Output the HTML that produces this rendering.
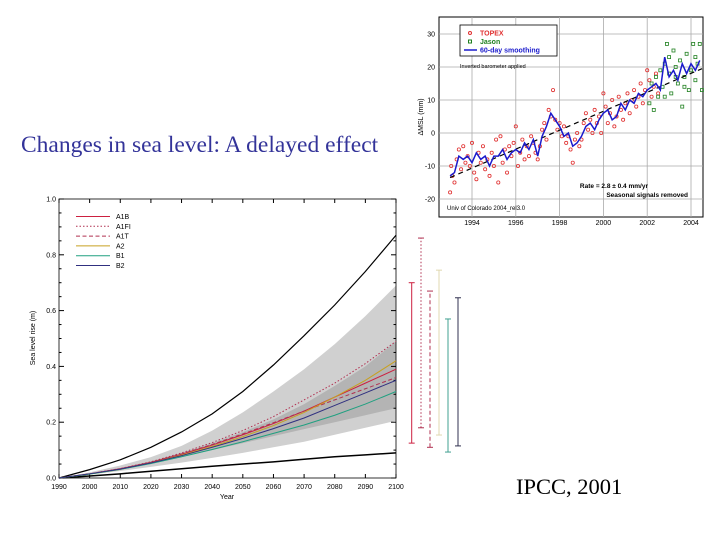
<!DOCTYPE html>
<html><head><meta charset="utf-8"><style>
body{margin:0;background:#fff;}
#wrap{position:relative;width:720px;height:540px;overflow:hidden;background:#fff;}
.t{position:absolute;font-family:"Liberation Serif",serif;white-space:nowrap;}
</style></head><body>
<div id="wrap">
<div class="t" style="left:21px;top:132px;font-size:23.5px;color:#333399;">Changes in sea level: A delayed effect</div>
<div class="t" style="left:516px;top:474px;font-size:22.5px;color:#000;">IPCC, 2001</div>
<svg id="top" width="720" height="540" style="position:absolute;left:0;top:0"></svg>
</div>
<script>
// ===== Top chart data =====
const topYTicks=[30,20,10,0,-10,-20];
const topXTicks=[1994,1996,1998,2000,2002,2004];
const smoothYears=[1993.0,1993.2,1993.4,1993.6,1993.8,1994.0,1994.2,1994.4,1994.6,1994.8,1995.0,1995.2,1995.4,1995.6,1995.8,1996.0,1996.2,1996.4,1996.6,1996.8,1997.0,1997.2,1997.4,1997.6,1997.8,1998.0,1998.2,1998.4,1998.6,1998.8,1999.0,1999.2,1999.4,1999.6,1999.8,2000.0,2000.2,2000.4,2000.6,2000.8,2001.0,2001.2,2001.4,2001.6,2001.8,2002.0,2002.2,2002.4,2002.6,2002.8,2003.0,2003.2,2003.4,2003.6,2003.8,2004.0,2004.2,2004.4];
const smoothVals=[-13,-12,-7,-8,-7,-9,-6,-8,-7,-10,-7,-7,-5,-8,-6,-5,-6,-3,-5,-2,-7,-1,2,6,4,2,-1,0,-4,-3,-1,2,3,1,4,6,7,4,5,9,7,10,9,12,11,13,14,15,13,23,17,19,16,21,18,21,19,22];
const topexPts=[[1993.0,-18],[1993.05,-10],[1993.1,-13],[1993.2,-15],[1993.3,-8],[1993.4,-5],[1993.5,-11],[1993.6,-4],[1993.7,-9],[1993.8,-7],[1993.9,-10],[1994.0,-3],[1994.1,-12],[1994.2,-14],[1994.3,-6],[1994.4,-9],[1994.5,-4],[1994.6,-11],[1994.7,-8],[1994.8,-13],[1994.9,-6],[1995.0,-10],[1995.1,-2],[1995.2,-15],[1995.3,-1],[1995.4,-9],[1995.5,-5],[1995.6,-12],[1995.7,-4],[1995.8,-7],[1995.9,-3],[1996.0,2],[1996.1,-10],[1996.2,-6],[1996.3,-2],[1996.4,-8],[1996.5,-4],[1996.6,-7],[1996.7,-1],[1996.8,-3],[1996.9,-6],[1997.0,-8],[1997.1,-4],[1997.2,1],[1997.3,3],[1997.4,-2],[1997.5,7],[1997.6,5],[1997.7,13],[1997.8,4],[1997.9,1],[1998.0,3],[1998.1,-1],[1998.2,2],[1998.3,-3],[1998.4,-1],[1998.5,-5],[1998.6,-9],[1998.7,-2],[1998.8,0],[1998.9,-4],[1999.0,-2],[1999.1,3],[1999.2,6],[1999.3,1],[1999.4,4],[1999.5,0],[1999.6,7],[1999.7,3],[1999.8,5],[1999.9,0],[2000.0,12],[2000.1,8],[2000.2,3],[2000.3,6],[2000.4,10],[2000.5,2],[2000.6,5],[2000.7,11],[2000.8,7],[2000.9,4],[2001.0,9],[2001.1,12],[2001.2,6],[2001.3,10],[2001.4,13],[2001.5,8],[2001.6,11],[2001.7,15],[2001.8,9],[2001.9,13],[2002.0,19],[2002.1,16],[2002.2,11],[2002.3,14],[2002.4,18],[2002.5,12]];
const jasonPts=[[2002.1,9],[2002.2,15],[2002.3,7],[2002.4,17],[2002.5,11],[2002.6,19],[2002.7,14],[2002.8,21],[2002.9,27],[2003.0,18],[2003.1,12],[2003.2,25],[2003.3,20],[2003.4,15],[2003.5,22],[2003.6,8],[2003.7,17],[2003.8,24],[2003.9,13],[2004.0,19],[2004.1,27],[2004.2,16],[2004.3,21],[2004.4,27],[2004.5,13],[2003.0,23],[2003.3,17],[2003.7,14],[2004.2,23],[2002.8,11]];
const trendYears=[1993.0,2004.5];
const trendVals=[-13.5,19.5];

// ===== Bottom chart data =====
const botYTicks=[0.0,0.2,0.4,0.6,0.8,1.0];
const botXTicks=[1990,2000,2010,2020,2030,2040,2050,2060,2070,2080,2090,2100];
const years=[1990,2000,2010,2020,2030,2040,2050,2060,2070,2080,2090,2100];
const upperBound=[0,0.03,0.065,0.11,0.165,0.23,0.31,0.405,0.51,0.62,0.74,0.87];
const lowerBound=[0,0.007,0.015,0.024,0.033,0.042,0.05,0.058,0.067,0.076,0.083,0.09];
const outerHi=[0,0.02,0.045,0.075,0.115,0.17,0.235,0.31,0.39,0.48,0.58,0.69];
const outerLo=[0,0.012,0.025,0.04,0.055,0.072,0.09,0.11,0.13,0.155,0.18,0.205];
const innerHi=[0,0.016,0.035,0.06,0.09,0.125,0.165,0.21,0.265,0.33,0.4,0.49];
const innerLo=[0,0.014,0.03,0.05,0.075,0.1,0.125,0.15,0.175,0.2,0.225,0.25];
const sA1B=[0,0.015,0.033,0.056,0.085,0.118,0.155,0.195,0.24,0.29,0.34,0.39];
const sA1FI=[0,0.015,0.034,0.058,0.09,0.127,0.17,0.22,0.28,0.34,0.41,0.49];
const sA1T=[0,0.015,0.033,0.056,0.086,0.12,0.158,0.198,0.24,0.28,0.32,0.36];
const sA2=[0,0.014,0.031,0.054,0.082,0.113,0.148,0.188,0.235,0.29,0.35,0.42];
const sB1=[0,0.014,0.031,0.052,0.076,0.102,0.13,0.16,0.19,0.225,0.265,0.31];
const sB2=[0,0.015,0.032,0.054,0.08,0.11,0.142,0.177,0.215,0.26,0.305,0.35];
const barLo=[0.125,0.18,0.11,0.154,0.093,0.115];
const barHi=[0.70,0.86,0.67,0.745,0.57,0.646];
const scenarioNames=['A1B','A1FI','A1T','A2','B1','B2'];

const svg=document.getElementById('top');
const NS='http://www.w3.org/2000/svg';
function mk(tag,attrs,parent){const e=document.createElementNS(NS,tag);for(const k in attrs)e.setAttribute(k,attrs[k]);(parent||svg).appendChild(e);return e;}
function txt(x,y,s,size,anchor,fill,parent){const e=mk('text',{x:x,y:y,'font-size':size,'font-family':'Liberation Sans, sans-serif','text-anchor':anchor||'start',fill:fill||'#000'},parent);e.textContent=s;return e;}

// ---- Top chart ----
const tx=y=>472+(y-1994)*21.9;
const ty=v=>199-(v+20)*3.3;
const tg=mk('g',{});


mk('rect',{x:439,y:17,width:264,height:200,fill:'#fff',stroke:'#000','stroke-width':1},tg);
topXTicks.forEach(v=>{const l=mk('line',{x1:tx(v),x2:tx(v),y1:17,y2:217,stroke:'#aaa','stroke-width':0.8},tg);

const t=txt(tx(v),225,String(v),7,'middle','#000',tg);});
topYTicks.forEach(v=>{const l=mk('line',{x1:439,x2:703,y1:ty(v),y2:ty(v),stroke:'#aaa','stroke-width':0.8},tg);

const t=txt(435,ty(v)+2.5,String(v),7,'end','#000',tg);});
const yt=txt(0,0,'ΔMSL  (mm)',7,'middle','#000',tg);yt.setAttribute('transform','translate(423,117) rotate(-90)');

topexPts.forEach(p=>{const c=mk('circle',{cx:tx(p[0]),cy:ty(p[1]),r:1.6,fill:'none',stroke:'#e03030','stroke-width':0.8},tg);
});
jasonPts.forEach(p=>{const c=mk('rect',{x:tx(p[0])-1.5,y:ty(p[1])-1.5,width:3,height:3,fill:'none',stroke:'#208020','stroke-width':0.8},tg);
});
const tr=mk('line',{x1:tx(trendYears[0]),y1:ty(trendVals[0]),x2:tx(trendYears[1]),y2:ty(trendVals[1]),stroke:'#000','stroke-width':1.2,'stroke-dasharray':'5,4'},tg);

const sm=mk('polyline',{points:smoothYears.map((y,i)=>tx(y)+','+ty(smoothVals[i])).join(' '),fill:'none',stroke:'#1a1acc','stroke-width':1.5},tg);

const lg=mk('g',{},tg);
mk('rect',{x:460,y:25,width:97,height:31,fill:'#fff',stroke:'#000','stroke-width':0.8},lg);
mk('circle',{cx:470,cy:33,r:1.5,fill:'none',stroke:'#e03030'},lg);txt(480,35.5,'TOPEX',7,'start','#e03030',lg).setAttribute('font-weight','bold');
mk('rect',{x:468.5,y:40,width:3,height:3,fill:'none',stroke:'#208020'},lg);txt(480,44,'Jason',7,'start','#208020',lg).setAttribute('font-weight','bold');
mk('line',{x1:464,x2:477,y1:50,y2:50,stroke:'#1a1acc','stroke-width':1.5},lg);txt(480,52.5,'60-day smoothing',7,'start','#1a1acc',lg).setAttribute('font-weight','bold');
txt(460,68,'Inverted barometer applied',5.5,'start','#000',tg);
txt(648,188,'Rate = 2.8 ± 0.4 mm/yr',6.5,'end','#000',tg).setAttribute('font-weight','bold');
txt(688,197,'Seasonal signals removed',6.5,'end','#000',tg).setAttribute('font-weight','bold');
txt(447,210,'Univ of Colorado 2004_rel3.0',6,'start','#000',tg);

// ---- Bottom chart ----
const bx=y=>59+(y-1990)*(337/110);
const by=v=>478-v*279;
const bg=mk('g',{});


function band(hi,lo,fill,name){const pts=years.map((y,i)=>bx(y)+','+by(hi[i])).concat(years.slice().reverse().map((y,i)=>bx(y)+','+by(lo[years.length-1-i]))).join(' ');
const p=mk('polygon',{points:pts,fill:fill},bg);}
band(outerHi,outerLo,'#d0d0d0','outer-uncertainty-band');
band(innerHi,innerLo,'#b4b4b4','inner-uncertainty-band');
mk('rect',{x:59,y:199,width:337,height:279,fill:'none',stroke:'#000','stroke-width':0.8},bg);
botXTicks.forEach(v=>{mk('line',{x1:bx(v),x2:bx(v),y1:478,y2:474,stroke:'#000'},bg);mk('line',{x1:bx(v),x2:bx(v),y1:199,y2:203,stroke:'#000'},bg);
const t=txt(bx(v),489,String(v),7,'middle','#000',bg);});
for(let v=0;v<=1.0001;v+=0.05){const L=Math.abs(v*5-Math.round(v*5))<1e-6?5:2.5;mk('line',{x1:59,x2:59+L,y1:by(v),y2:by(v),stroke:'#000'},bg);mk('line',{x1:396,x2:396-L,y1:by(v),y2:by(v),stroke:'#000'},bg);}
botYTicks.forEach(v=>{const t=txt(56,by(v)+2.5,v.toFixed(1),7,'end','#000',bg);});
const xt=txt(227,499,'Year',7,'middle','#000',bg);
const yt2=txt(0,0,'Sea level rise (m)',7,'middle','#000',bg);yt2.setAttribute('transform','translate(35,338) rotate(-90)');

function line(arr,color,dash,w,name){const p=mk('polyline',{points:years.map((y,i)=>bx(y)+','+by(arr[i])).join(' '),fill:'none',stroke:color,'stroke-width':w,'stroke-dasharray':dash},bg);
}
line(upperBound,'#000','none',1.2,'upper-bound-line');
line(lowerBound,'#000','none',1.5,'lower-bound-line');
const colors=['#cc2040','#b03050','#b03050','#c8a020','#20a080','#303080'];
const dashes=['none','1.5,2','4,2.5','none','none','none'];
const series=[sA1B,sA1FI,sA1T,sA2,sB1,sB2];
series.forEach((s,i)=>line(s,colors[i],dashes[i],1,'series-'+scenarioNames[i].toLowerCase()));
const barColors=['#cc2040','#b03050','#b03050','#e0d8b0','#40a090','#303050'];
const barX=[411.7,421,430,439,448,458];
barLo.forEach((lo,i)=>{const g=mk('g',{},bg);
mk('line',{x1:barX[i],x2:barX[i],y1:by(lo),y2:by(barHi[i]),stroke:barColors[i],'stroke-width':1,'stroke-dasharray':dashes[i]},g);
mk('line',{x1:barX[i]-3,x2:barX[i]+3,y1:by(lo),y2:by(lo),stroke:barColors[i]},g);
mk('line',{x1:barX[i]-3,x2:barX[i]+3,y1:by(barHi[i]),y2:by(barHi[i]),stroke:barColors[i]},g);});
scenarioNames.forEach((n,i)=>{const g=mk('g',{},bg);
const y=216.5+i*9.8;mk('line',{x1:76,x2:110,y1:y,y2:y,stroke:colors[i],'stroke-width':1,'stroke-dasharray':dashes[i]},g);
txt(116,y+2.5,n,7,'start','#000',g);});
</script>
</body></html>
